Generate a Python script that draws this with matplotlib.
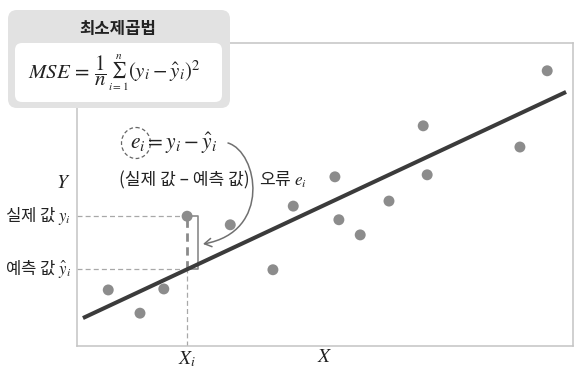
import matplotlib
matplotlib.use("Agg")
import matplotlib.pyplot as plt
import matplotlib.transforms as mtransforms
from matplotlib.patches import FancyBboxPatch, Ellipse, FancyArrowPatch
from matplotlib.path import Path

plt.rcParams["font.family"] = ["Noto Sans CJK KR", "DejaVu Sans"]
plt.rcParams["mathtext.fontset"] = "stix"

# Observed samples (x, y)
x_obs = [0.63, 1.27, 1.75, 2.22, 3.09, 3.95, 4.36, 5.20, 5.28, 5.71, 6.29, 6.98, 7.06, 8.93, 9.48]
y_obs = [1.11, 0.65, 1.13, 2.57, 2.40, 1.51, 2.77, 3.35, 2.50, 2.20, 2.87, 4.36, 3.39, 3.94, 5.45]

# Fitted regression line
slope = 0.4597
intercept = 0.498
line_x = [0.12, 9.86]

# Highlighted sample i
sel = 3
x_lim = (0, 10)
y_lim = (0, 6)

TXT = "#222222"
W, H, DPI = 5.84, 3.81, 100
fig = plt.figure(figsize=(W, H), dpi=DPI)
ax = fig.add_axes([77 / 584, 1 - 346 / 381, (573 - 77) / 584, (346 - 43) / 381])
ax.set_xlim(*x_lim)
ax.set_ylim(*y_lim)
ax.set_xticks([])
ax.set_yticks([])
for s in ax.spines.values():
    s.set_color("#c4c4c4")
    s.set_linewidth(1.1)

# pixel (top-left origin) -> display transform for annotations
PX = mtransforms.Affine2D().scale(1 / DPI, -1 / DPI).translate(0, H) + fig.dpi_scale_trans

Xi = x_obs[sel]
yi = y_obs[sel]
yhat = intercept + slope * Xi

# guide lines for the highlighted sample
guide = dict(color="#a8a8a8", lw=0.9, ls=(0, (4, 2.5)), zorder=1)
ax.plot([x_lim[0], Xi], [yi, yi], **guide)
ax.plot([x_lim[0], Xi], [yhat, yhat], **guide)
ax.plot([Xi, Xi], [y_lim[0], yhat], **guide)
ax.plot([Xi, Xi], [yhat, yi], color="#8a8a8a", lw=2.0, ls=(0, (3, 2)), zorder=1)
bx = Xi + 0.22
ax.plot([Xi, bx, bx, Xi], [yi, yi, yhat, yhat], color="#8a8a8a", lw=1.2, zorder=1)

# data points and fitted line
ax.scatter(x_obs, y_obs, s=62, color="#8c8c8c", edgecolors="none", zorder=3)
line_y = [intercept + slope * v for v in line_x]
ax.plot(line_x, line_y, color="#3b3b3b", lw=2.9, solid_capstyle="butt", zorder=2)

# axis labels
fig.text(63, 182, "$Y$", transform=PX, fontsize=14, ha="center", va="center", color=TXT)
fig.text(325, 357, "$X$", transform=PX, fontsize=14, ha="center", va="center", color=TXT)
fig.text(187, 359, "$X_i$", transform=PX, fontsize=14, ha="center", va="center", color=TXT)
fig.text(71, 216, "실제 값 $y_i$", transform=PX, fontsize=12, ha="right", va="center", color=TXT)
fig.text(71, 269, "예측 값 $\\hat{y}_i$", transform=PX, fontsize=12, ha="right", va="center", color=TXT)

# error annotation
fig.text(174, 143, "$e_i = y_i - \\hat{y}_i$", transform=PX, fontsize=15.5, ha="center", va="center", color=TXT)
circ = Ellipse((136, 143), 29, 31, transform=PX, fill=False, ec="#666666", lw=0.9, ls=(0, (3, 2)))
fig.add_artist(circ)
fig.text(184, 180, "(실제 값 – 예측 값)", transform=PX, fontsize=12.3, ha="center", va="center", color=TXT)
fig.text(259, 180, "오류 $e_i$", transform=PX, fontsize=12.3, ha="left", va="center", color=TXT)

arc = Path([(228, 143), (258, 152), (272, 232), (203, 244)],
           [Path.MOVETO, Path.CURVE4, Path.CURVE4, Path.CURVE4])
arr = FancyArrowPatch(path=arc, transform=PX, arrowstyle="->,head_length=5,head_width=3",
                      color="#707070", lw=1.1)
fig.add_artist(arr)

# least squares box
outer = FancyBboxPatch((8, 10), 222, 98, boxstyle="round,pad=0,rounding_size=9",
                       transform=PX, fc="#e2e2e2", ec="none", zorder=5)
inner = FancyBboxPatch((15, 43), 207, 59, boxstyle="round,pad=0,rounding_size=7",
                       transform=PX, fc="white", ec="none", zorder=6)
fig.add_artist(outer)
fig.add_artist(inner)
fig.text(118, 29, "최소제곱법", transform=PX, fontsize=12, fontweight="bold", ha="center",
         va="center", color=TXT, zorder=7)
fig.text(107, 71, "$MSE\\,=\\,\\dfrac{1}{n}$", transform=PX, fontsize=15, ha="right",
         va="center", color=TXT, zorder=7)
fig.text(118, 73, "$\\sum_{i=1}^{n}$", transform=PX, fontsize=11.5, ha="center",
         va="center", color=TXT, zorder=7)
fig.text(128, 71, "$(y_i - \\hat{y}_i)^2$", transform=PX, fontsize=15, ha="left",
         va="center", color=TXT, zorder=7)

fig.savefig("out.png", dpi=DPI)
